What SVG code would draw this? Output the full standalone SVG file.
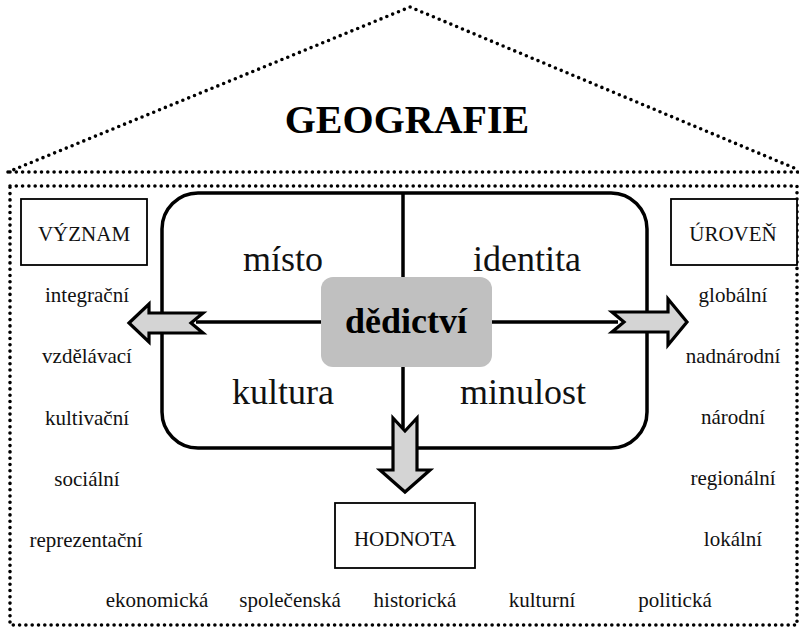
<svg xmlns="http://www.w3.org/2000/svg" width="799" height="630" viewBox="0 0 799 630">
<style>
.dot{fill:none;stroke:#000;stroke-width:3.6;stroke-dasharray:0 6.3;stroke-linecap:round}
.ln{fill:none;stroke:#000;stroke-width:3.5}
.arr{fill:#d4d4d4;stroke:#000;stroke-width:3.2;stroke-linejoin:miter}
.box{fill:#fff;stroke:#000;stroke-width:1.8}
.t{font-family:"Liberation Serif","Times New Roman",serif;fill:#111;text-anchor:middle}
.s{font-size:21px}
.m{font-size:36px}
.b{font-weight:bold;fill:#000}
</style>
<rect width="799" height="630" fill="#fff"/>
<g id="frame">
<polyline class="dot" points="8,172 410,7 799,170"/>
<line class="dot" x1="10" y1="172" x2="799" y2="172"/>
<rect class="dot" x="10" y="186" width="787" height="439"/>
<text class="t b" x="407" y="133" font-size="40">GEOGRAFIE</text>
</g>
<g id="connectors">
<rect class="ln" x="162" y="193" width="485" height="255" rx="36"/>
<line class="ln" x1="403" y1="193" x2="403" y2="278"/>
<line class="ln" x1="403" y1="366" x2="403" y2="428"/>
<line class="ln" x1="196" y1="322" x2="322" y2="322"/>
<line class="ln" x1="491" y1="322" x2="618" y2="322"/>
<polygon class="arr" points="129,323 149,304 149,313 203,313 191,323 203,333 149,333 149,342"/>
<polygon class="arr" points="687,322 668,299 668,312 612,312 624,322 612,332 668,332 668,345"/>
<polygon class="arr" points="393,418 405,431 417,418 417,470 430,470 405,492 380,470 393,470"/>
</g>
<g id="center">
<rect x="321" y="277" width="171" height="90" rx="12" fill="#c0c0c0"/>
<text class="t m b" x="406" y="333">dědictví</text>
</g>
<g id="quadrants">
<text class="t m" x="283" y="271">místo</text>
<text class="t m" x="527" y="271">identita</text>
<text class="t m" x="283" y="404">kultura</text>
<text class="t m" x="523" y="404">minulost</text>
</g>
<g id="vyznam">
<rect class="box" x="21" y="199" width="126" height="66"/>
<text class="t s" x="84" y="241">VÝZNAM</text>
<text class="t s" x="87" y="302">integrační</text>
<text class="t s" x="87" y="363">vzdělávací</text>
<text class="t s" x="87" y="425">kultivační</text>
<text class="t s" x="87" y="486">sociální</text>
<text class="t s" x="86" y="547">reprezentační</text>
</g>
<g id="uroven">
<rect class="box" x="671" y="199" width="126" height="66"/>
<text class="t s" x="733" y="241">ÚROVEŇ</text>
<text class="t s" x="733" y="302">globální</text>
<text class="t s" x="733" y="363">nadnárodní</text>
<text class="t s" x="733" y="424">národní</text>
<text class="t s" x="733" y="485">regionální</text>
<text class="t s" x="733" y="546">lokální</text>
</g>
<g id="hodnota">
<rect class="box" x="335" y="503" width="140" height="65"/>
<text class="t s" x="405" y="546">HODNOTA</text>
<text class="t s" x="157" y="607">ekonomická</text>
<text class="t s" x="290" y="607">společenská</text>
<text class="t s" x="415" y="607">historická</text>
<text class="t s" x="542" y="607">kulturní</text>
<text class="t s" x="675" y="607">politická</text>
</g>
</svg>
